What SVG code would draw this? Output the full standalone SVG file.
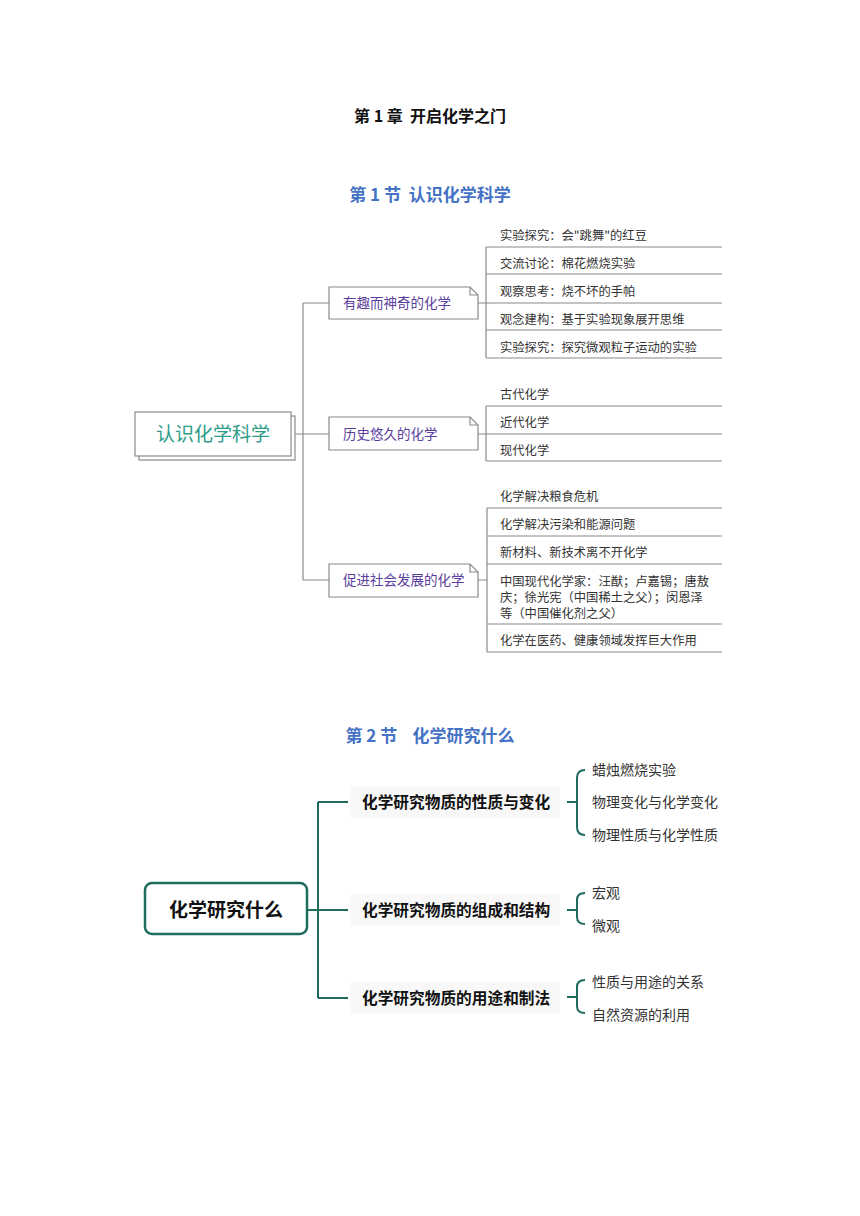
<svg xmlns="http://www.w3.org/2000/svg" width="860" height="1216" viewBox="0 0 860 1216">
<style>
text{font-family:"Noto Sans CJK SC","Liberation Sans",sans-serif}
.title{font-size:16px;font-weight:bold;fill:#111;white-space:pre}
.sec{font-size:17px;font-weight:bold;fill:#4472c4;white-space:pre}
.root1{font-size:19px;fill:#2e9c8a}
.mid{font-size:13.5px;fill:#5a3e9c}
.leaf{font-size:12.3px;fill:#333}
.ln{stroke:#8a8a8a;stroke-width:1.2;fill:none}
.box{fill:#fff;stroke:#8a8a8a;stroke-width:1.2}
.root2{font-size:19px;font-weight:bold;fill:#111}
.br{font-size:15.7px;font-weight:bold;fill:#111}
.lf2{font-size:14px;fill:#333}
.tl{stroke:#1f6b5e;stroke-width:2;fill:none}
</style>
<rect width="860" height="1216" fill="#fff"/>
<text class="title" x="430" y="122" text-anchor="middle" xml:space="preserve">第 1 章  开启化学之门</text>
<text class="sec" x="430" y="201" text-anchor="middle" xml:space="preserve">第 1 节  认识化学科学</text>

<g id="connectors1">
<path class="ln" d="M291,434 H329 M303,303 V580 M303,303 H329 M303,580 H329"/>
<path class="ln" d="M478,303 H486 M486,247 V358 M486,247 H722 M486,274 H722 M486,303 H722 M486,330 H722 M486,358 H722"/>
<path class="ln" d="M478,434 H486 M486,406 V461 M486,406 H722 M486,434 H722 M486,461 H722"/>
<path class="ln" d="M478,580 H487 M487,508 V652 M487,508 H722 M487,536 H722 M487,564 H722 M487,624 H722 M487,652 H722"/>
</g>

<g id="root1">
<rect class="box" x="139" y="416" width="156" height="44"/>
<rect class="box" x="135" y="412" width="156" height="44"/>
<text class="root1" x="213" y="441" text-anchor="middle">认识化学科学</text>
</g>

<g id="mid1">
<path class="box" d="M329,287 H470 L478,295 V319 H329 Z"/>
<path class="ln" d="M470,287 V295 H478"/>
<text class="mid" x="343" y="308">有趣而神奇的化学</text>
</g>
<g id="mid2">
<path class="box" d="M329,417 H470 L478,425 V450 H329 Z"/>
<path class="ln" d="M470,417 V425 H478"/>
<text class="mid" x="343" y="439">历史悠久的化学</text>
</g>
<g id="mid3">
<path class="box" d="M329,564 H470 L478,572 V597 H329 Z"/>
<path class="ln" d="M470,564 V572 H478"/>
<text class="mid" x="343" y="585">促进社会发展的化学</text>
</g>

<g id="leaves1">
<text class="leaf" x="500" y="240">实验探究：会"跳舞"的红豆</text>
<text class="leaf" x="500" y="268">交流讨论：棉花燃烧实验</text>
<text class="leaf" x="500" y="296">观察思考：烧不坏的手帕</text>
<text class="leaf" x="500" y="324">观念建构：基于实验现象展开思维</text>
<text class="leaf" x="500" y="352">实验探究：探究微观粒子运动的实验</text>
</g>
<g id="leaves2">
<text class="leaf" x="500" y="399">古代化学</text>
<text class="leaf" x="500" y="427">近代化学</text>
<text class="leaf" x="500" y="455">现代化学</text>
</g>
<g id="leaves3">
<text class="leaf" x="500" y="501">化学解决粮食危机</text>
<text class="leaf" x="500" y="529">化学解决污染和能源问题</text>
<text class="leaf" x="500" y="557">新材料、新技术离不开化学</text>
<text class="leaf" x="500" y="586">中国现代化学家：汪猷；卢嘉锡；唐敖</text>
<text class="leaf" x="500" y="602">庆；徐光宪（中国稀土之父）；闵恩泽</text>
<text class="leaf" x="500" y="618">等（中国催化剂之父）</text>
<text class="leaf" x="500" y="645">化学在医药、健康领域发挥巨大作用</text>
</g>

<text class="sec" x="430" y="742" text-anchor="middle" xml:space="preserve">第 2 节    化学研究什么</text>

<g id="connectors2">
<path class="tl" d="M307,910 H348 M318,802 V998 M318,802 H348 M318,998 H348"/>
<path class="tl" d="M567,802 H577 M585,770 Q577,770 577,778 V827 Q577,835 585,835"/>
<path class="tl" d="M567,910 H577 M585,893 Q577,893 577,900 V917 Q577,924 585,924"/>
<path class="tl" d="M567,997 H577 M585,980 Q577,980 577,987 V1006 Q577,1013 585,1013"/>
</g>

<g id="root2">
<rect x="145" y="883" width="162" height="51" rx="7" fill="#fff" stroke="#1f6b5e" stroke-width="2.5"/>
<text class="root2" x="226" y="917" text-anchor="middle">化学研究什么</text>
</g>
<g id="b1">
<rect x="350" y="786" width="210" height="32" fill="#f8f8f8"/>
<text class="br" x="362" y="808">化学研究物质的性质与变化</text>
</g>
<g id="b2">
<rect x="350" y="894" width="210" height="32" fill="#f8f8f8"/>
<text class="br" x="362" y="916">化学研究物质的组成和结构</text>
</g>
<g id="b3">
<rect x="350" y="982" width="210" height="32" fill="#f8f8f8"/>
<text class="br" x="362" y="1004">化学研究物质的用途和制法</text>
</g>
<g id="leaves4">
<text class="lf2" x="592" y="775">蜡烛燃烧实验</text>
<text class="lf2" x="592" y="807">物理变化与化学变化</text>
<text class="lf2" x="592" y="840">物理性质与化学性质</text>
<text class="lf2" x="592" y="898">宏观</text>
<text class="lf2" x="592" y="931">微观</text>
<text class="lf2" x="592" y="987">性质与用途的关系</text>
<text class="lf2" x="592" y="1020">自然资源的利用</text>
</g>
</svg>
